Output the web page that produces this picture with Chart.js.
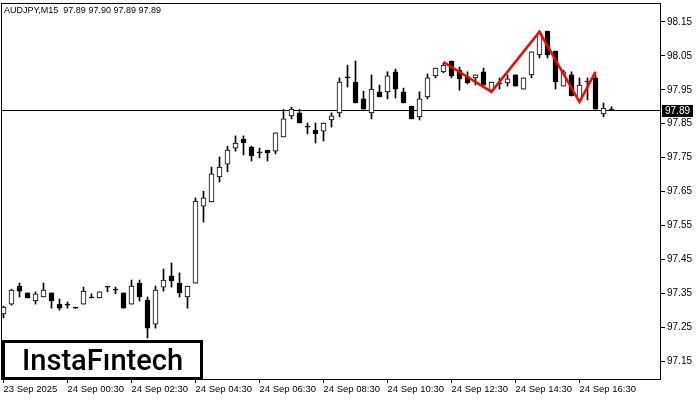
<!DOCTYPE html>
<html>
<head>
<meta charset="utf-8">
<script src="https://cdn.jsdelivr.net/npm/chart.js@4.4.1/dist/chart.umd.min.js"></script>
<style>
  html, body { margin: 0; padding: 0; background: #fff; }
  #wrap { width: 700px; height: 400px; }
</style>
</head>
<body>
<div id="wrap"><canvas id="grafico" width="700" height="400"></canvas></div>
<script>
// AUDJPY M15 - candles
const simbolo = 'AUDJPY,M15';

const aberturas = [
  97.289, 97.318, 97.371, 97.351, 97.327, 97.339, 97.351, 97.318, 97.315, 97.306,
  97.318, 97.336, 97.336, 97.368, 97.359, 97.351, 97.318, 97.380, 97.330, 97.259,
  97.368, 97.401, 97.380, 97.339, 97.380, 97.607, 97.619, 97.693, 97.731, 97.778,
  97.805, 97.781, 97.764, 97.772, 97.769, 97.811, 97.873, 97.882, 97.840, 97.831,
  97.828, 97.861, 97.882, 97.985, 97.973, 97.923, 97.882, 97.944, 97.944, 98.003,
  97.944, 97.902, 97.870, 97.929, 97.991, 98.003, 98.035, 98.008, 97.988, 97.985,
  98.003, 97.949, 97.967, 97.970, 97.994, 97.952, 97.994, 98.053, 98.123, 98.064,
  97.961, 97.994, 97.920, 97.973, 97.985, 97.879, 97.890
];
const maximas = [
  97.312, 97.362, 97.380, 97.351, 97.354, 97.380, 97.351, 97.333, 97.324, 97.307,
  97.368, 97.348, 97.354, 97.368, 97.368, 97.351, 97.389, 97.389, 97.339, 97.371,
  97.421, 97.439, 97.410, 97.371, 97.631, 97.651, 97.722, 97.752, 97.784, 97.814,
  97.814, 97.784, 97.778, 97.772, 97.823, 97.893, 97.899, 97.893, 97.852, 97.852,
  97.852, 97.882, 97.985, 98.023, 98.035, 97.946, 97.994, 97.964, 98.003, 98.011,
  97.955, 97.902, 97.944, 97.997, 98.014, 98.029, 98.035, 98.017, 98.003, 97.994,
  98.014, 97.973, 97.985, 97.994, 97.994, 97.985, 98.062, 98.123, 98.123, 98.064,
  98.008, 98.003, 97.985, 97.985, 97.994, 97.911, 97.900
];
const minimas = [
  97.277, 97.315, 97.339, 97.336, 97.318, 97.339, 97.306, 97.300, 97.306, 97.305,
  97.318, 97.336, 97.336, 97.354, 97.348, 97.306, 97.318, 97.327, 97.218, 97.247,
  97.356, 97.368, 97.339, 97.306, 97.380, 97.560, 97.619, 97.678, 97.708, 97.769,
  97.758, 97.740, 97.749, 97.740, 97.761, 97.811, 97.864, 97.852, 97.820, 97.793,
  97.799, 97.840, 97.870, 97.958, 97.911, 97.893, 97.864, 97.929, 97.923, 97.926,
  97.911, 97.864, 97.861, 97.923, 97.985, 98.000, 97.985, 97.949, 97.967, 97.964,
  97.964, 97.949, 97.952, 97.961, 97.961, 97.952, 97.985, 98.044, 98.044, 97.952,
  97.961, 97.932, 97.920, 97.920, 97.893, 97.870, 97.890
];
const fechamentos = [
  97.309, 97.359, 97.356, 97.336, 97.348, 97.359, 97.327, 97.306, 97.315, 97.306,
  97.356, 97.336, 97.354, 97.368, 97.359, 97.306, 97.371, 97.339, 97.247, 97.359,
  97.389, 97.386, 97.351, 97.371, 97.622, 97.631, 97.702, 97.722, 97.772, 97.793,
  97.793, 97.755, 97.764, 97.764, 97.823, 97.864, 97.893, 97.852, 97.840, 97.820,
  97.852, 97.873, 97.973, 97.985, 97.911, 97.893, 97.952, 97.929, 97.991, 97.952,
  97.911, 97.864, 97.923, 97.985, 98.014, 98.023, 97.991, 97.982, 97.970, 97.994,
  97.964, 97.973, 97.967, 97.982, 97.961, 97.985, 98.062, 98.118, 98.053, 97.973,
  98.003, 97.932, 97.964, 97.973, 97.893, 97.896, 97.890
];

// the red pattern (triple top outline)
const padraoIdx = [55, 61, 67, 72, 74];
const padraoPreco = [98.032, 97.944, 98.121, 97.914, 98.003];

// axis labels
const ticksTempo = [0, 8, 16, 24, 32, 40, 48, 56, 64, 72];
const rotulosTempo = ['23 Sep 2025', '24 Sep 00:30', '24 Sep 02:30', '24 Sep 04:30', '24 Sep 06:30',
  '24 Sep 08:30', '24 Sep 10:30', '24 Sep 12:30', '24 Sep 14:30', '24 Sep 16:30'];
const ticksPreco = [97.15, 97.25, 97.35, 97.45, 97.55, 97.65, 97.75, 97.85, 97.95, 98.05, 98.15];
const ultimoPreco = 97.89;

const fonte = "'Liberation Sans', Arial, sans-serif";

// datasets montados a partir dos arrays
const corpos = aberturas.map((a, i) => ({ x: i, y: [a, fechamentos[i]] }));
const sombras = minimas.map((m, i) => ({ x: i, y: [m, maximas[i]] }));
const corCorpo = aberturas.map((a, i) => fechamentos[i] > a ? '#ffffff' : '#000000');
const padrao = padraoIdx.map((i, k) => ({ x: i, y: padraoPreco[k] }));

const n = aberturas.length - 1;
const tituloTexto = simbolo + '  ' + [aberturas[n], maximas[n], minimas[n], fechamentos[n]].map(v => v.toFixed(2)).join(' ');

// desenhos extras: fundo, linha de preço, moldura, logo
const extras = {
  id: 'extras',
  beforeDraw(chart) {
    const ctx = chart.ctx;
    ctx.save();
    ctx.fillStyle = '#fff';
    ctx.fillRect(0, 0, chart.width, chart.height);
    ctx.restore();
  },
  beforeDatasetsDraw(chart) {
    const ctx = chart.ctx;
    const area = chart.chartArea;
    const y = Math.round(chart.scales.y.getPixelForValue(ultimoPreco)) + 0.5;
    ctx.save();
    ctx.strokeStyle = '#000';
    ctx.lineWidth = 1;
    ctx.beginPath();
    ctx.moveTo(area.left, y);
    ctx.lineTo(area.right, y);
    ctx.stroke();
    ctx.restore();
  },
  afterDatasetsDraw(chart) {
    const ctx = chart.ctx;
    const area = chart.chartArea;
    // logo
    ctx.save();
    ctx.fillStyle = '#fff';
    ctx.fillRect(area.left + 1, area.bottom - 39, 199, 39);
    ctx.strokeStyle = '#000';
    ctx.lineWidth = 3;
    ctx.strokeRect(area.left + 2.5, area.bottom - 37.5, 198, 37);
    let tam = 28;
    ctx.font = '500 ' + tam + 'px Roboto, sans-serif';
    const w = ctx.measureText('InstaF\u0131ntech').width;
    tam = tam * 161 / w;
    ctx.font = '500 ' + tam.toFixed(1) + 'px Roboto, sans-serif';
    ctx.fillStyle = '#000';
    ctx.textBaseline = 'alphabetic';
    ctx.textAlign = 'left';
    ctx.fillText('InstaF\u0131ntech', 22, area.bottom - 9);
    ctx.restore();
  },
  afterDraw(chart) {
    const ctx = chart.ctx;
    const area = chart.chartArea;
    ctx.save();
    ctx.strokeStyle = '#000';
    ctx.lineWidth = 1;
    ctx.strokeRect(area.left + 0.5, area.top + 0.5, area.right - area.left - 1, area.bottom - area.top);
    // titulo
    ctx.fillStyle = '#000';
    ctx.font = '9px ' + fonte;
    ctx.textBaseline = 'middle';
    ctx.textAlign = 'left';
    ctx.fillText(tituloTexto, 4, 11);
    // etiqueta do último preço
    const y = Math.round(chart.scales.y.getPixelForValue(ultimoPreco));
    ctx.fillStyle = '#000';
    ctx.fillRect(area.right + 1, y - 5, 31, 12);
    ctx.fillStyle = '#fff';
    ctx.font = '10px ' + fonte;
    ctx.fillText(ultimoPreco.toFixed(2), area.right + 4, y + 1);
    ctx.restore();
  }
};

const grafico = new Chart(document.getElementById('grafico'), {
  type: 'bar',
  data: {
    datasets: [
      {
        type: 'line',
        data: padrao,
        borderColor: '#ff0000',
        borderWidth: 2.5,
        pointRadius: 0,
        tension: 0,
        order: 0
      },
      {
        data: corpos,
        backgroundColor: corCorpo,
        borderColor: '#000',
        borderWidth: 1,
        borderSkipped: false,
        barThickness: 5,
        minBarLength: 1,
        grouped: false,
        order: 1
      },
      {
        data: sombras,
        backgroundColor: '#000',
        borderWidth: 0,
        barThickness: 1,
        minBarLength: 1,
        grouped: false,
        order: 2
      }
    ]
  },
  options: {
    responsive: false,
    animation: false,
    layout: { padding: { left: 1, top: 3, right: 0, bottom: 0 } },
    plugins: { legend: { display: false }, tooltip: { enabled: false } },
    scales: {
      x: {
        type: 'linear',
        min: -0.3125,
        max: 82.1875,
        offset: false,
        border: { display: false },
        grid: { display: true, offset: false, drawOnChartArea: false, drawTicks: true, tickLength: 4, color: '#000' },
        afterBuildTicks: (scale) => { scale.ticks = ticksTempo.map(v => ({ value: v })); },
        afterFit: (scale) => {
          scale.height = 21;
          scale.paddingLeft = 0;
          scale.paddingRight = 0;
        },
        ticks: {
          autoSkip: false,
          maxRotation: 0,
          align: 'start',
          padding: 1,
          color: '#000',
          font: { family: fonte, size: 9.5 },
          callback: (v) => rotulosTempo[ticksTempo.indexOf(v)]
        }
      },
      y: {
        position: 'right',
        min: 97.097,
        max: 98.206,
        border: { display: false },
        grid: { display: true, drawOnChartArea: false, drawTicks: true, tickLength: 4, color: '#000' },
        afterBuildTicks: (scale) => { scale.ticks = ticksPreco.map(v => ({ value: v })); },
        afterFit: (scale) => {
          scale.width = 39;
          scale.paddingTop = 0;
          scale.paddingBottom = 0;
        },
        ticks: {
          padding: 2,
          color: '#000',
          font: { family: fonte, size: 10 },
          callback: (v) => v.toFixed(2)
        }
      }
    }
  },
  plugins: [extras]
});
</script>
</body>
</html>
